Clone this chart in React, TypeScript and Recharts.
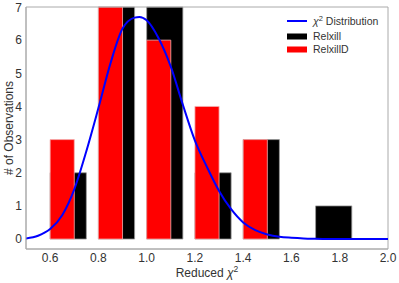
import {
  ComposedChart,
  Label,
  Line,
  ReferenceArea,
  XAxis,
  YAxis,
} from "recharts";

// chi^2 curve
const chiX = [0.5, 0.55, 0.6, 0.65, 0.7, 0.75, 0.8, 0.85, 0.9, 0.95, 0.97, 1.0, 1.05, 1.1, 1.15, 1.2, 1.25, 1.3, 1.35, 1.4, 1.45, 1.5, 1.55, 1.6, 1.65, 1.7, 1.8, 1.9, 2.0];
const chiY = [0.02, 0.1, 0.3, 0.72, 1.5, 2.65, 3.95, 5.3, 6.35, 6.68, 6.7, 6.6, 6.05, 5.2, 4.05, 2.97, 2.17, 1.45, 0.9, 0.5, 0.27, 0.14, 0.07, 0.04, 0.02, 0.01, 0, 0, 0];

// Relxill histogram (left edge, width 0.15)
const relxillLeft = [0.6, 0.8, 1.0, 1.2, 1.4, 1.7];
const relxillCount = [2, 7, 7, 2, 3, 1];
const relxillWidth = 0.15;

// RelxillD histogram (left edge, width 0.1)
const relxillDLeft = [0.6, 0.8, 1.0, 1.2, 1.4];
const relxillDCount = [3, 7, 6, 4, 3];
const relxillDWidth = 0.1;

const xDomain = [0.5, 2.0];
const yDomain = [-0.3, 7];
const xTicks = [0.6, 0.8, 1.0, 1.2, 1.4, 1.6, 1.8, 2.0];
const yTicks = [0, 1, 2, 3, 4, 5, 6, 7];

const FONT = "'Liberation Sans', Arial, sans-serif";
const FRAME = "#aaaaaa";
const TICK = { fontSize: 12, fill: "#333", fontFamily: FONT };

const chiData = chiX.map((x, i) => ({ x, y: chiY[i] }));

function XTitle(props: any) {
  const vb = props.viewBox;
  return (
    <text x={vb.x + vb.width / 2} y={vb.y + 28} textAnchor="middle" fontSize={12} fill="#333" fontFamily={FONT}>
      Reduced <tspan fontStyle="italic">χ</tspan>
      <tspan dy={-5} fontSize={8.5}>2</tspan>
    </text>
  );
}

function YTitle(props: any) {
  const vb = props.viewBox;
  const cx = 12.5;
  const cy = vb.y + vb.height / 2;
  return (
    <text
      x={cx}
      y={cy}
      transform={`rotate(-90, ${cx}, ${cy})`}
      textAnchor="middle"
      fontSize={12}
      fill="#333"
      fontFamily={FONT}
    >
      # of Observations
    </text>
  );
}

function Legend() {
  return (
    <svg width={399} height={283} style={{ position: "absolute", left: 0, top: 0, pointerEvents: "none" }}>
      <g fontFamily={FONT} fontSize={10.5} fill="#333">
        <line x1={287} x2={307} y1={21} y2={21} stroke="#0000ff" strokeWidth={2} />
        <text x={313} y={24.5}>
          <tspan fontStyle="italic">χ</tspan>
          <tspan dy={-4} fontSize={7.5}>2</tspan>
          <tspan dy={4}> Distribution</tspan>
        </text>
        <rect x={287} y={33.5} width={20} height={6} fill="#000" />
        <text x={313} y={40}>Relxill</text>
        <rect x={287} y={46.5} width={20} height={6} fill="#ff0000" />
        <text x={313} y={53}>RelxillD</text>
      </g>
    </svg>
  );
}

export default function App() {
  return (
    <div style={{ position: "absolute", left: 0, top: 0, width: 399, height: 283, background: "#fff" }}>
      <ComposedChart width={399} height={283} data={chiData} margin={{ top: 7, right: 11, left: 0, bottom: 0 }}>
        <XAxis
          dataKey="x"
          type="number"
          domain={xDomain}
          ticks={xTicks}
          tickFormatter={(v: number) => v.toFixed(1)}
          tick={TICK}
          tickLine={false}
          tickSize={0}
          tickMargin={4}
          height={34}
          axisLine={{ stroke: FRAME }}
          allowDataOverflow
        >
          <Label content={XTitle} />
        </XAxis>
        <YAxis
          type="number"
          domain={yDomain}
          ticks={yTicks}
          tick={TICK}
          tickLine={false}
          tickSize={0}
          tickMargin={4}
          width={26}
          axisLine={{ stroke: FRAME }}
          allowDataOverflow
        >
          <Label content={YTitle} />
        </YAxis>

        {relxillLeft.map((x, i) => (
          <ReferenceArea
            key={"k" + i}
            x1={x}
            x2={x + relxillWidth}
            y1={0}
            y2={relxillCount[i]}
            fill="#000000"
            fillOpacity={1}
            stroke="#999"
            strokeWidth={0.8}
          />
        ))}
        {relxillDLeft.map((x, i) => (
          <ReferenceArea
            key={"r" + i}
            x1={x}
            x2={x + relxillDWidth}
            y1={0}
            y2={relxillDCount[i]}
            fill="#ff0000"
            fillOpacity={1}
            stroke="#f4b0b0"
            strokeWidth={0.8}
          />
        ))}
        {/* axes frame */}
        <ReferenceArea
          x1={xDomain[0]}
          x2={xDomain[1]}
          y1={yDomain[0]}
          y2={yDomain[1]}
          fill="none"
          stroke={FRAME}
          strokeWidth={1}
        />

        <Line
          type="monotone"
          dataKey="y"
          stroke="#0000ff"
          strokeWidth={2}
          dot={false}
          activeDot={false}
          isAnimationActive={false}
        />
      </ComposedChart>
      <Legend />
    </div>
  );
}
